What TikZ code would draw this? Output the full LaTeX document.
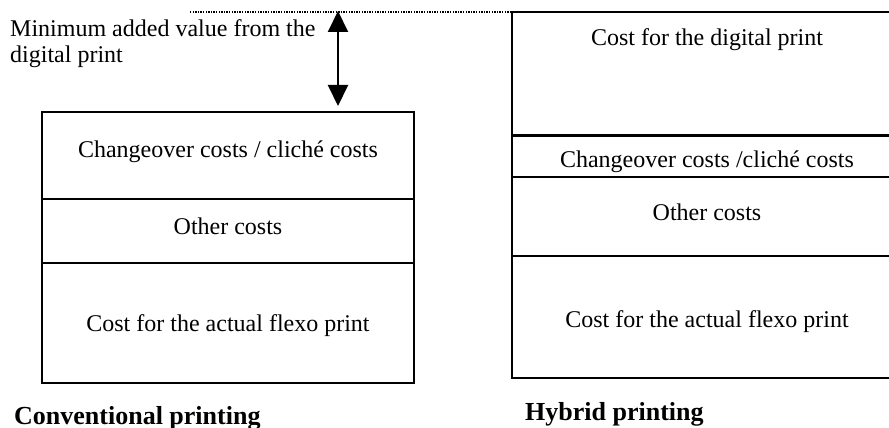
\documentclass[tikz,border=0pt]{standalone}
\usepackage{fontspec}
\setmainfont{Liberation Serif}
\usetikzlibrary{arrows.meta}
\begin{document}
\begin{tikzpicture}[x=1pt,y=-1pt,
  layer/.style={line width=1.6pt},
  thickrule/.style={line width=3pt},
  body/.style={font=\fontsize{24}{28}\selectfont, anchor=base, inner sep=0pt},
  caption/.style={font=\fontsize{26}{30}\selectfont\bfseries, anchor=base west, inner sep=0pt},
  gap/.style={line width=2pt, {Triangle[length=21pt,width=20pt]}-{Triangle[length=21pt,width=20pt]}},
  level/.style={line width=1.3pt, dash pattern=on 1.3pt off 1.3pt, black}]
\useasboundingbox (0,0) rectangle (889,428);
\clip (0,0) rectangle (889,428);

% conventional printing stack
\draw[layer] (42,112) rectangle (414,383);
\draw[layer] (42,199) -- (414,199);
\draw[layer] (42,263) -- (414,263);
\node[body] (cchange) at (228,157) {Changeover costs / clich\'e costs};
\node[body] (cother)  at (228,234) {Other costs};
\node[body] (cflexo)  at (228,331) {Cost for the actual flexo print};
\node[caption] (conv) at (14,424) {Conventional printing};

% hybrid printing stack (runs past the right edge)
\draw[layer] (905,12) -- (512,12) -- (512,378) -- (905,378);
\draw[thickrule] (512,135) -- (905,135);
\draw[layer] (512,177) -- (905,177);
\draw[layer] (512,256) -- (905,256);
\node[body] (hdigital) at (707,46)  {Cost for the digital print};
\node[body] (hchange)  at (707,167) {Changeover costs /clich\'e costs};
\node[body] (hother)   at (707,220) {Other costs};
\node[body] (hflexo)   at (707,327) {Cost for the actual flexo print};
\node[caption] (hyb) at (525,420) {Hybrid printing};

% added value of the digital print
\coordinate (lvlL) at (190,12);
\coordinate (lvlR) at (512,12);
\coordinate (gtop) at (338,11);
\coordinate (gbot) at (338,106);
\draw[level] (lvlL) -- (lvlR);
\draw[gap] (gtop) -- (gbot);
\node[font=\fontsize{24}{26}\selectfont, anchor=base west, inner sep=0pt, align=left] (minval) at (10,63)
  {Minimum added value from the\\digital print};
\end{tikzpicture}
\end{document}
